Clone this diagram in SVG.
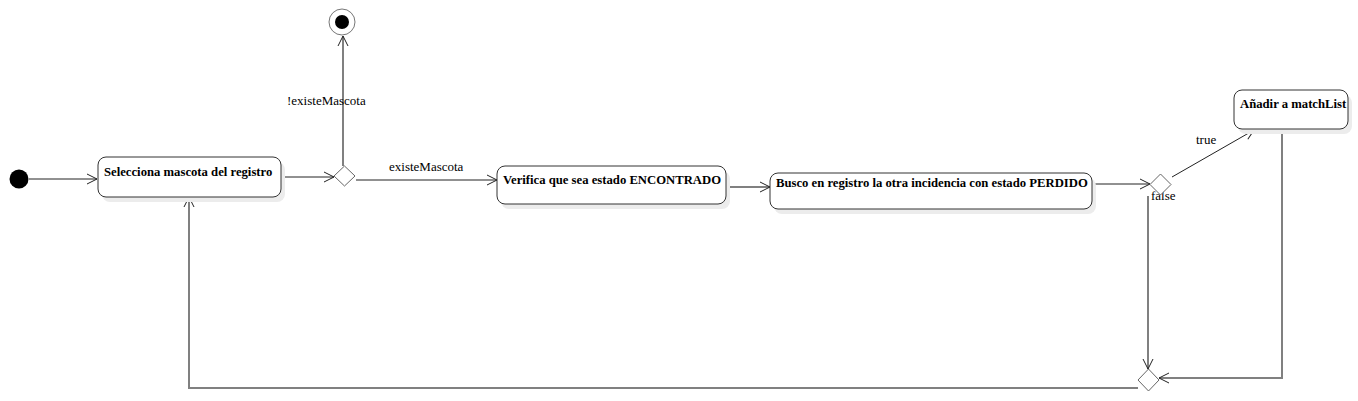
<svg xmlns="http://www.w3.org/2000/svg" width="1358" height="401" viewBox="0 0 1358 401">
<style>
.node{fill:#fff;stroke:#333;stroke-width:1}
.shadow{fill:#ececec;stroke:none}
.nt{font-family:"Liberation Serif","Times New Roman",serif;font-weight:bold;font-size:12.7px;fill:#000}
.lbl{font-family:"Liberation Serif","Times New Roman",serif;font-size:13px;fill:#000}
.dia{fill:#fff;stroke:#666;stroke-width:1}
.e{fill:none;stroke:#222;stroke-width:1}
.g{fill:none;stroke:#808080;stroke-width:2}
</style>
<defs>
<marker id="a" markerUnits="userSpaceOnUse" markerWidth="12" markerHeight="12" refX="11" refY="6" orient="auto" viewBox="0 0 12 12">
<path d="M1,1 L11,6 L1,11" fill="none" stroke="#222" stroke-width="1"/>
</marker>
</defs>
<rect width="1358" height="401" fill="#fff"/>
<g id="connectors">
<line class="e" x1="29" y1="179" x2="97" y2="179" marker-end="url(#a)"/>
<line class="e" x1="281" y1="177" x2="334" y2="177" marker-end="url(#a)"/>
<line class="g" x1="343" y1="166" x2="343" y2="36" marker-end="url(#a)"/>
<line class="e" x1="356" y1="180" x2="497" y2="180" marker-end="url(#a)"/>
<line class="g" x1="726" y1="187" x2="770" y2="187" marker-end="url(#a)"/>
<line class="e" x1="1092" y1="184" x2="1150" y2="184" marker-end="url(#a)"/>
<line class="e" x1="1172" y1="177" x2="1254" y2="130" marker-end="url(#a)"/>
<line class="g" x1="1148" y1="196" x2="1148" y2="369" marker-end="url(#a)"/>
<polyline class="g" points="1282,129 1282,378 1159,378" marker-end="url(#a)"/>
<polyline class="g" points="1138,388 189,388 189,197" marker-end="url(#a)"/>
<text class="lbl" x="287" y="105">!existeMascota</text>
<text class="lbl" x="389" y="171">existeMascota</text>
<text class="lbl" x="1196" y="144">true</text>
<text class="lbl" x="1151" y="200">false</text>
</g>
<g id="initial">
<circle cx="19" cy="179" r="9.5" fill="#000"/>
</g>
<g id="final">
<circle cx="342" cy="22" r="13" fill="#fff" stroke="#777" stroke-width="1"/>
<circle cx="342" cy="22" r="7" fill="#000"/>
</g>
<g id="n1">
<rect class="shadow" x="102" y="162" width="183" height="40" rx="8"/>
<rect class="node" x="98" y="157" width="183" height="40" rx="8"/>
<text class="nt" x="104" y="176">Selecciona mascota del registro</text>
</g>
<g id="d1">
<polygon class="dia" points="334,176 344.5,166 355,176 344.5,186"/>
</g>
<g id="n2">
<rect class="shadow" x="501" y="171" width="229" height="38" rx="8"/>
<rect class="node" x="497" y="166" width="229" height="38" rx="8"/>
<text class="nt" x="503" y="184">Verifica que sea estado ENCONTRADO</text>
</g>
<g id="n3">
<rect class="shadow" x="774" y="178" width="322" height="36" rx="8"/>
<rect class="node" x="770" y="173" width="322" height="36" rx="8"/>
<text class="nt" x="776" y="187">Busco en registro la otra incidencia con estado PERDIDO</text>
</g>
<g id="d2">
<polygon class="dia" points="1150,184.5 1160.5,174 1171,184.5 1160.5,195"/>
</g>
<g id="n4">
<rect class="shadow" x="1238" y="95" width="114" height="39" rx="8"/>
<rect class="node" x="1234" y="90" width="114" height="39" rx="8"/>
<text class="nt" x="1240" y="108">Añadir a matchList</text>
</g>
<g id="d3">
<polygon class="dia" points="1138,380 1148.5,369 1159,380 1148.5,391"/>
</g>
</svg>
